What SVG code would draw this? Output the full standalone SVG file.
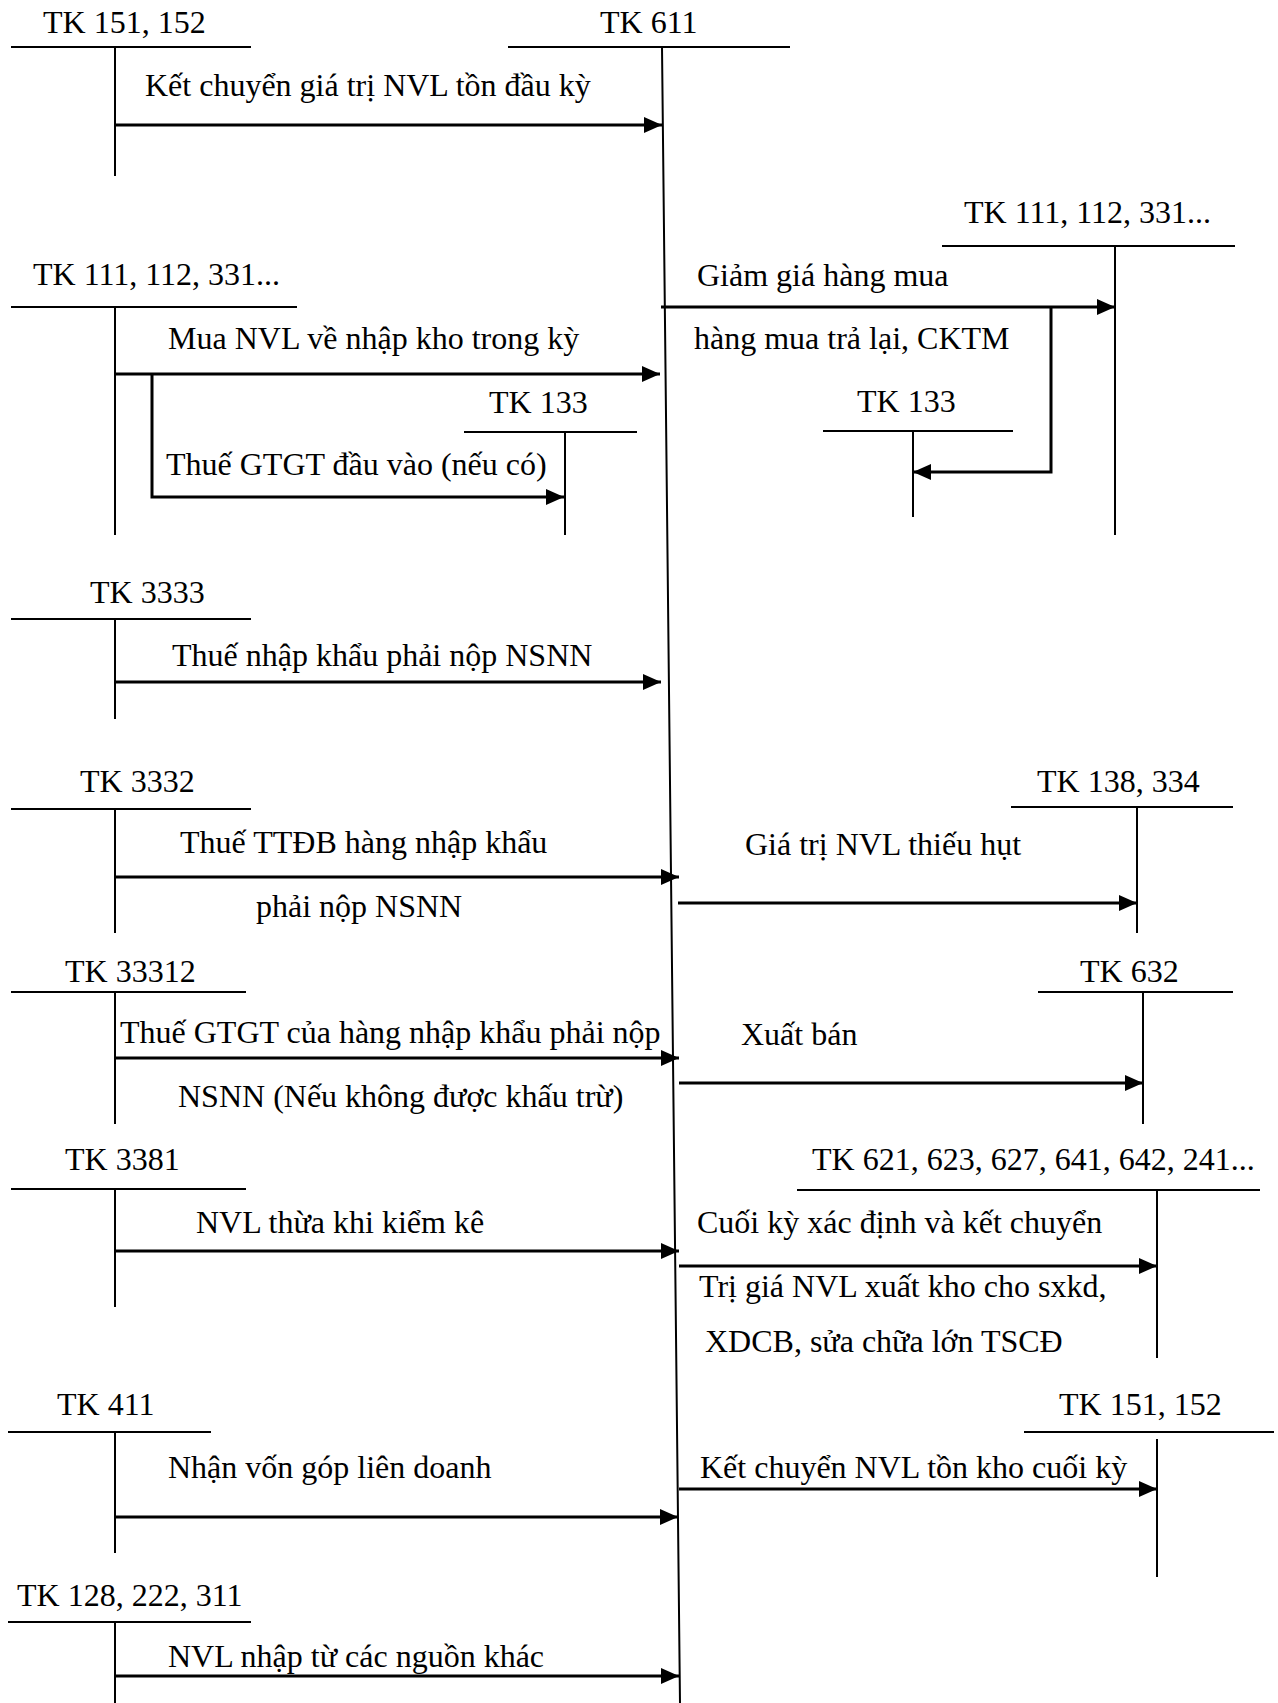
<svg xmlns="http://www.w3.org/2000/svg" width="1278" height="1703" viewBox="0 0 1278 1703">
<style>
text{font-family:"Liberation Serif","Times New Roman",serif;font-size:32px;fill:#000}
.acc{stroke:#000;stroke-width:2;fill:none}
.arr{stroke:#000;stroke-width:3;fill:none;marker-end:url(#ah)}
</style>
<defs>
<marker id="ah" markerUnits="userSpaceOnUse" viewBox="0 0 18 16" refX="18" refY="8" markerWidth="18" markerHeight="16" orient="auto">
<path d="M0,0 L18,8 L0,16 Z" fill="#000"/>
</marker>
</defs>
<rect width="1278" height="1703" fill="#fff"/>
<g id="tk611"><text x="600" y="33">TK 611</text><path class="acc" d="M508 47H790M662 47L680 1703"/></g>
<g id="tk151-152-left"><text x="43" y="33">TK 151, 152</text><path class="acc" d="M11 47H251M115 47V176"/></g>
<g id="tk111-left"><text x="33" y="285">TK 111, 112, 331...</text><path class="acc" d="M11 307H297M115 307V535"/></g>
<g id="tk133-left"><text x="489" y="413">TK 133</text><path class="acc" d="M464 432H637M565 432V535"/></g>
<g id="tk111-right"><text x="964" y="223">TK 111, 112, 331...</text><path class="acc" d="M942 246H1235M1115 246V535"/></g>
<g id="tk133-right"><text x="857" y="412">TK 133</text><path class="acc" d="M823 431H1013M913 431V517"/></g>
<g id="tk3333"><text x="90" y="603">TK 3333</text><path class="acc" d="M11 619H251M115 619V719"/></g>
<g id="tk3332"><text x="80" y="792">TK 3332</text><path class="acc" d="M11 809H251M115 809V933"/></g>
<g id="tk138-334"><text x="1037" y="792">TK 138, 334</text><path class="acc" d="M1011 807H1233M1137 807V933"/></g>
<g id="tk33312"><text x="65" y="982">TK 33312</text><path class="acc" d="M11 992H246M115 992V1124"/></g>
<g id="tk632"><text x="1080" y="982">TK 632</text><path class="acc" d="M1038 992H1233M1143 992V1124"/></g>
<g id="tk3381"><text x="65" y="1170">TK 3381</text><path class="acc" d="M11 1189H246M115 1189V1307"/></g>
<g id="tk621"><text x="812" y="1170">TK 621, 623, 627, 641, 642, 241...</text><path class="acc" d="M797 1190H1260M1157 1190V1358"/></g>
<g id="tk411"><text x="57" y="1415">TK 411</text><path class="acc" d="M8 1432H211M115 1432V1553"/></g>
<g id="tk151-152-right"><text x="1059" y="1415">TK 151, 152</text><path class="acc" d="M1024 1432H1274M1157 1439V1577"/></g>
<g id="tk128"><text x="17" y="1606">TK 128, 222, 311</text><path class="acc" d="M8 1622H251M115 1622V1703"/></g>
<g id="connectors">
<path class="arr" d="M115 125H662"/>
<path class="arr" d="M115 374H660"/>
<path class="arr" d="M152 374V497H564"/>
<path class="arr" d="M661 307H1115"/>
<path class="arr" d="M1051 307V472H913"/>
<path class="arr" d="M115 682H661"/>
<path class="arr" d="M115 877H679"/>
<path class="arr" d="M678 903H1137"/>
<path class="arr" d="M115 1058H679"/>
<path class="arr" d="M679 1083H1143"/>
<path class="arr" d="M115 1251H679"/>
<path class="arr" d="M679 1266H1157"/>
<path class="arr" d="M115 1517H678"/>
<path class="arr" d="M679 1489H1157"/>
<path class="arr" d="M115 1676H679"/>
</g>
<g id="labels">
<text x="145" y="96">Kết chuyển giá trị NVL tồn đầu kỳ</text>
<text x="168" y="349">Mua NVL về nhập kho trong kỳ</text>
<text x="166" y="475">Thuế GTGT đầu vào (nếu có)</text>
<text x="697" y="286">Giảm giá hàng mua</text>
<text x="694" y="349">hàng mua trả lại, CKTM</text>
<text x="172" y="666">Thuế nhập khẩu phải nộp NSNN</text>
<text x="180" y="853">Thuế TTĐB hàng nhập khẩu</text>
<text x="256" y="917">phải nộp NSNN</text>
<text x="745" y="855">Giá trị NVL thiếu hụt</text>
<text x="120" y="1043">Thuế GTGT của hàng nhập khẩu phải nộp</text>
<text x="178" y="1107">NSNN (Nếu không được khấu trừ)</text>
<text x="741" y="1045">Xuất bán</text>
<text x="196" y="1233">NVL thừa khi kiểm kê</text>
<text x="697" y="1233">Cuối kỳ xác định và kết chuyển</text>
<text x="699" y="1297">Trị giá NVL xuất kho cho sxkd,</text>
<text x="705" y="1352">XDCB, sửa chữa lớn TSCĐ</text>
<text x="168" y="1478">Nhận vốn góp liên doanh</text>
<text x="700" y="1478">Kết chuyển NVL tồn kho cuối kỳ</text>
<text x="168" y="1667">NVL nhập từ các nguồn khác</text>
</g>
</svg>
